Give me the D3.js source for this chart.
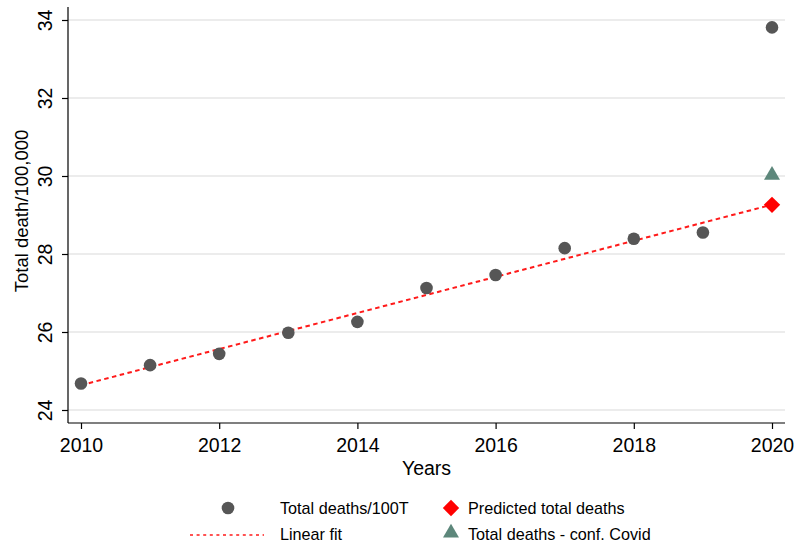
<!DOCTYPE html>
<html>
<head>
<meta charset="utf-8">
<script src="https://cdn.jsdelivr.net/npm/d3@7/dist/d3.min.js"></script>
<style>
  html, body { margin: 0; padding: 0; background: #fff; }
  svg { display: block; font-family: "Liberation Sans", Arial, Helvetica, sans-serif; }
</style>
</head>
<body>
<svg id="chart" width="797" height="547"></svg>
<script>
// Annual totals per 100,000 population
const years = [2010, 2011, 2012, 2013, 2014, 2015, 2016, 2017, 2018, 2019, 2020];
const totalDeaths = [24.68, 25.15, 25.44, 25.98, 26.26, 27.13, 27.46, 28.15, 28.39, 28.55, 33.81];
// 2020 projection and covid-confirmed total
const predictedYear = [2020];
const predictedDeaths = [29.26];
const covidYear = [2020];
const covidDeaths = [30.02];
// Axis ticks
const xTicks = [2010, 2012, 2014, 2016, 2018, 2020];
const yTicks = [24, 26, 28, 30, 32, 34];

const svg = d3.select("#chart");
const plotLeft = 68, plotRight = 785, plotTop = 7, plotBottom = 423;
const tickFont = 19.5;

const x = d3.scaleLinear().domain([2010, 2020]).range([81, 772]);
const y = d3.scaleLinear().domain([24, 34]).range([410, 20]);

// Gridlines
svg.append("g").selectAll("line").data(yTicks).join("line")
  .attr("x1", plotLeft).attr("x2", plotRight)
  .attr("y1", d => y(d)).attr("y2", d => y(d))
  .attr("stroke", "#e6e6e6").attr("stroke-width", 1.5);

// Y axis
const yAxis = svg.append("g").attr("transform", `translate(${plotLeft},0)`)
  .call(d3.axisLeft(y).tickValues(yTicks).tickSize(6).tickPadding(0).tickFormat(d3.format("d")));
yAxis.select(".domain").attr("d", `M0,${plotTop}V${plotBottom}`).attr("stroke", "#000").attr("stroke-width", 1.2);
yAxis.selectAll(".tick line").attr("stroke", "#000").attr("stroke-width", 1.2);
yAxis.selectAll(".tick text")
  .attr("x", 0).attr("dy", null)
  .attr("transform", "translate(-23,0) rotate(-90)")
  .attr("text-anchor", "middle")
  .attr("dominant-baseline", "central")
  .attr("font-size", tickFont).attr("fill", "#000");

// X axis
const xAxis = svg.append("g").attr("transform", `translate(0,${plotBottom})`)
  .call(d3.axisBottom(x).tickValues(xTicks).tickSize(6).tickPadding(9).tickFormat(d3.format("d")));
xAxis.select(".domain").attr("d", `M${plotLeft},0H${plotRight}`).attr("stroke", "#000").attr("stroke-width", 1.2);
xAxis.selectAll(".tick line").attr("stroke", "#000").attr("stroke-width", 1.2);
xAxis.selectAll(".tick text").attr("font-size", tickFont).attr("fill", "#000");

// Axis titles
svg.append("text")
  .attr("transform", `translate(21,${(plotTop + plotBottom) / 2 - 4}) rotate(-90)`)
  .attr("text-anchor", "middle").attr("dominant-baseline", "central")
  .attr("font-size", 18.5).text("Total death/100,000");
svg.append("text")
  .attr("x", (plotLeft + plotRight) / 2).attr("y", 475)
  .attr("text-anchor", "middle").attr("font-size", tickFont).text("Years");

// Least-squares fit over 2010–2019, drawn across 2010–2020
const fitX = years.slice(0, 10), fitY = totalDeaths.slice(0, 10);
const mx = d3.mean(fitX), my = d3.mean(fitY);
const slope = d3.sum(fitX, (v, i) => (v - mx) * (fitY[i] - my)) / d3.sum(fitX, v => (v - mx) ** 2);
const fit = v => my + slope * (v - mx);
svg.append("line")
  .attr("x1", x(2010)).attr("y1", y(fit(2010)))
  .attr("x2", x(2020)).attr("y2", y(fit(2020)))
  .attr("stroke", "#ff1a1a").attr("stroke-width", 2).attr("stroke-dasharray", "4.5,3.5");

// Observed totals
svg.append("g").selectAll("circle").data(years).join("circle")
  .attr("cx", d => x(d)).attr("cy", (d, i) => y(totalDeaths[i]))
  .attr("r", 6.3).attr("fill", "#565656");

// Covid-confirmed total
svg.append("g").selectAll("path").data(covidYear).join("path")
  .attr("d", d3.symbol(d3.symbolTriangle, 110))
  .attr("transform", (d, i) => `translate(${x(d)},${y(covidDeaths[i])})`)
  .attr("fill", "#5d877b");

// Predicted total
svg.append("g").selectAll("rect").data(predictedYear).join("rect")
  .attr("x", -5.8).attr("y", -5.8).attr("width", 11.6).attr("height", 11.6)
  .attr("transform", (d, i) => `translate(${x(d)},${y(predictedDeaths[i])}) rotate(45)`)
  .attr("fill", "#ff0000");

// Legend
const lg = svg.append("g").attr("font-size", 16.2).attr("fill", "#000");
lg.append("circle").attr("cx", 228).attr("cy", 508).attr("r", 6.3).attr("fill", "#565656");
lg.append("text").attr("x", 280).attr("y", 508).attr("dominant-baseline", "central").text("Total deaths/100T");
lg.append("line").attr("x1", 190).attr("x2", 264).attr("y1", 535).attr("y2", 535)
  .attr("stroke", "#ff1a1a").attr("stroke-width", 1.5).attr("stroke-dasharray", "3,3.6");
lg.append("text").attr("x", 280).attr("y", 534).attr("dominant-baseline", "central").text("Linear fit");
lg.append("rect").attr("x", -5.8).attr("y", -5.8).attr("width", 11.6).attr("height", 11.6)
  .attr("transform", "translate(451,508) rotate(45)").attr("fill", "#ff0000");
lg.append("text").attr("x", 468).attr("y", 508).attr("dominant-baseline", "central").text("Predicted total deaths");
lg.append("path").attr("d", d3.symbol(d3.symbolTriangle, 110))
  .attr("transform", "translate(451,533)").attr("fill", "#5d877b");
lg.append("text").attr("x", 468).attr("y", 534).attr("dominant-baseline", "central").text("Total deaths - conf. Covid");
</script>
</body>
</html>
